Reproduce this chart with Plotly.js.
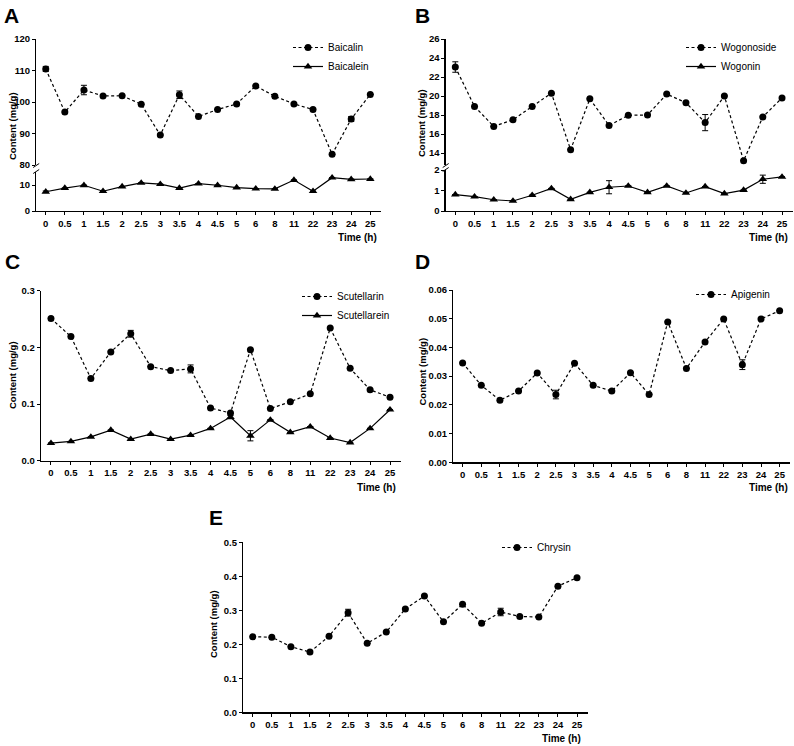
<!DOCTYPE html>
<html>
<head>
<meta charset="utf-8">
<script src="https://cdn.plot.ly/plotly-3.0.1.min.js"></script>
<style>
html,body{margin:0;padding:0;background:#fff;}
#chart{width:794px;height:746px;}
</style>
</head>
<body>
<div id="chart"></div>
<script>
// ---------- data ----------
const timeLabels = ['0','0.5','1','1.5','2','2.5','3','3.5','4','4.5','5','6','8','11','22','23','24','25'];

const baicalin    = [110.5, 96.8, 103.8, 101.9, 102.0, 99.3, 89.5, 102.3, 95.4, 97.6, 99.4, 105.1, 101.8, 99.4, 97.6, 83.4, 94.6, 102.4];
const baicalinSD  = [0.8, 0, 1.5, 0, 0, 0, 0, 1.2, 0, 0, 0, 0, 0, 0, 0, 0, 0.8, 0];
const baicalein   = [7.4, 8.8, 9.9, 7.6, 9.4, 10.8, 10.3, 8.8, 10.5, 9.9, 9.0, 8.6, 8.5, 11.9, 7.6, 12.8, 12.2, 12.3];
const baicaleinSD = [0.3, 0, 0, 0, 0, 0, 0, 0, 0, 0, 0, 0, 0, 0, 0, 0, 0, 0];

const wogonoside   = [23.05, 18.9, 16.8, 17.5, 18.9, 20.3, 14.35, 19.7, 16.9, 17.97, 18.0, 20.2, 19.3, 17.2, 20.0, 13.2, 17.8, 19.8];
const wogonosideSD = [0.55, 0, 0, 0, 0, 0, 0, 0, 0, 0, 0, 0, 0, 0.85, 0, 0, 0, 0];
const wogonin      = [0.80, 0.70, 0.55, 0.49, 0.77, 1.10, 0.57, 0.91, 1.16, 1.22, 0.91, 1.22, 0.88, 1.19, 0.85, 1.02, 1.55, 1.66];
const wogoninSD    = [0, 0, 0, 0, 0, 0, 0, 0, 0.32, 0, 0, 0, 0, 0, 0, 0, 0.2, 0];

const scutellarin    = [0.251, 0.219, 0.145, 0.192, 0.224, 0.166, 0.159, 0.162, 0.093, 0.084, 0.196, 0.092, 0.104, 0.118, 0.234, 0.163, 0.125, 0.112];
const scutellarinSD  = [0, 0, 0, 0, 0.006, 0, 0, 0.007, 0, 0, 0, 0, 0, 0, 0, 0, 0, 0];
const scutellarein   = [0.031, 0.034, 0.042, 0.054, 0.038, 0.047, 0.038, 0.045, 0.057, 0.077, 0.044, 0.072, 0.050, 0.060, 0.040, 0.032, 0.057, 0.090];
const scutellareinSD = [0, 0, 0, 0, 0, 0, 0, 0, 0, 0.003, 0.009, 0, 0, 0, 0, 0, 0, 0];

const apigenin   = [0.0346, 0.0268, 0.0216, 0.0248, 0.0311, 0.0236, 0.0345, 0.0268, 0.0248, 0.0312, 0.0236, 0.0489, 0.0327, 0.0419, 0.0499, 0.0340, 0.0499, 0.0528];
const apigeninSD = [0, 0, 0, 0, 0, 0.0015, 0, 0, 0, 0, 0, 0, 0, 0, 0, 0.0017, 0, 0];

const chrysin   = [0.222, 0.221, 0.193, 0.177, 0.224, 0.293, 0.203, 0.236, 0.304, 0.342, 0.266, 0.318, 0.262, 0.295, 0.282, 0.280, 0.371, 0.396];
const chrysinSD = [0, 0, 0, 0, 0, 0.010, 0, 0, 0, 0, 0, 0, 0, 0.011, 0, 0, 0, 0];

const seriesNames = {A:['Baicalin','Baicalein'], B:['Wogonoside','Wogonin'], C:['Scutellarin','Scutellarein'], D:['Apigenin'], E:['Chrysin']};

// ---------- layout helpers ----------
const W = 794, H = 746;
const fx = p => p / W;
const fy = p => 1 - p / H;
const FONT = 'Liberation Sans, Arial, Helvetica, sans-serif';

function glycoside(name, y, sd, xa, ya, lg) {
  return {
    name: name, x: timeLabels, y: y, xaxis: xa, yaxis: ya, legend: lg,
    type: 'scatter', mode: 'lines+markers',
    line: {color: '#000', width: 1.2, dash: '3px,2.5px'},
    marker: {symbol: 'circle', size: 7, color: '#000'},
    error_y: {type: 'data', array: sd, visible: true, color: '#000', thickness: 1, width: 3},
    cliponaxis: false
  };
}
function aglycone(name, y, sd, xa, ya, lg) {
  return {
    name: name, x: timeLabels, y: y, xaxis: xa, yaxis: ya, legend: lg,
    type: 'scatter', mode: 'lines+markers',
    line: {color: '#000', width: 1.2},
    marker: {symbol: 'triangle-up', size: 7.5, color: '#000'},
    error_y: {type: 'data', array: sd, visible: true, color: '#000', thickness: 1, width: 3},
    cliponaxis: false
  };
}

const data = [
  glycoside(seriesNames.A[0], baicalin, baicalinSD, 'x', 'y', 'legend'),
  aglycone(seriesNames.A[1], baicalein, baicaleinSD, 'x', 'y2', 'legend'),
  glycoside(seriesNames.B[0], wogonoside, wogonosideSD, 'x2', 'y3', 'legend2'),
  aglycone(seriesNames.B[1], wogonin, wogoninSD, 'x2', 'y4', 'legend2'),
  glycoside(seriesNames.C[0], scutellarin, scutellarinSD, 'x3', 'y5', 'legend3'),
  aglycone(seriesNames.C[1], scutellarein, scutellareinSD, 'x3', 'y5', 'legend3'),
  glycoside(seriesNames.D[0], apigenin, apigeninSD, 'x4', 'y6', 'legend4'),
  glycoside(seriesNames.E[0], chrysin, chrysinSD, 'x5', 'y7', 'legend5')
];

const tickFont = {family: FONT, size: 9.5, color: '#000', weight: 'bold'};
function xAxis(l, r, anchor) {
  return {
    type: 'category', domain: [fx(l), fx(r)], anchor: anchor, range: [-0.5, 17.55],
    tickmode: 'array', tickvals: timeLabels, ticktext: timeLabels,
    showline: true, linecolor: '#000', linewidth: 1.3,
    ticks: 'outside', ticklen: 3, tickwidth: 1, tickcolor: '#000',
    showgrid: false, zeroline: false, tickfont: tickFont, fixedrange: true
  };
}
function yAxis(top, bottom, anchor, range, extra) {
  return Object.assign({
    domain: [fy(bottom), fy(top)], anchor: anchor, range: range,
    showline: true, linecolor: '#000', linewidth: 1.3,
    ticks: 'outside', ticklen: 3, tickwidth: 1, tickcolor: '#000',
    showgrid: false, zeroline: false, tickfont: tickFont, fixedrange: true
  }, extra || {});
}

function legendAt(px, py) {
  return {x: fx(px), y: fy(py), xanchor: 'left', yanchor: 'top',
          font: {family: FONT, size: 10, color: '#000'}, bgcolor: 'rgba(0,0,0,0)',
          itemwidth: 30, tracegroupgap: 0};
}

function ann(text, px, py, opts) {
  return Object.assign({text: text, x: fx(px), y: fy(py), xref: 'paper', yref: 'paper',
    xanchor: 'center', yanchor: 'middle', showarrow: false,
    font: {family: FONT, size: 9, color: '#000', weight: 'bold'}}, opts || {});
}
const letterFont = {family: FONT, size: 21, color: '#000', weight: 'bold'};
const titleFont = {family: FONT, size: 9.5, color: '#000', weight: 'bold'};
const timeFont = {family: FONT, size: 10, color: '#000', weight: 'bold'};

function breakMarks(x, yUp, yLow) {
  const s = {type: 'line', xref: 'paper', yref: 'paper', line: {color: '#000', width: 1}};
  return [
    Object.assign({}, s, {x0: fx(x - 3), y0: fy(yUp + 2.5), x1: fx(x + 3), y1: fy(yUp - 1.5)}),
    Object.assign({}, s, {x0: fx(x - 3), y0: fy(yLow + 1.5), x1: fx(x + 3), y1: fy(yLow - 2.5)})
  ];
}

const layout = {
  width: W, height: H, margin: {l: 0, r: 0, t: 0, b: 0},
  paper_bgcolor: '#fff', plot_bgcolor: 'rgba(0,0,0,0)', showlegend: true,
  font: {family: FONT, color: '#000'},
  // Panel A
  xaxis: xAxis(36.2, 380.8, 'y2'),
  yaxis: yAxis(39, 165, 'x', [80, 120], {tickvals: [80, 90, 100, 110, 120]}),
  yaxis2: yAxis(172, 211, 'x', [0, 15], {tickvals: [0, 10]}),
  // Panel B
  xaxis2: xAxis(445.7, 792.6, 'y4'),
  yaxis3: yAxis(39, 165, 'x2', [12.74, 26], {tickvals: [14, 16, 18, 20, 22, 24, 26]}),
  yaxis4: yAxis(170, 211, 'x2', [0, 2], {tickvals: [0, 1, 2]}),
  // Panel C
  xaxis3: xAxis(41, 401, 'y5'),
  yaxis5: yAxis(290.7, 460.7, 'x3', [0, 0.3], {tickvals: [0, 0.1, 0.2, 0.3], tickformat: '.1f'}),
  // Panel D
  xaxis4: xAxis(453.3, 789.9, 'y6'),
  yaxis6: yAxis(290, 462.3, 'x4', [0, 0.06], {tickvals: [0, 0.01, 0.02, 0.03, 0.04, 0.05, 0.06], tickformat: '.2f'}),
  // Panel E
  xaxis5: xAxis(243.2, 587.5, 'y7'),
  yaxis7: yAxis(542.3, 712.3, 'x5', [0, 0.5], {tickvals: [0, 0.1, 0.2, 0.3, 0.4, 0.5], tickformat: '.1f'}),

  legend: legendAt(288, 33),
  legend2: legendAt(681, 33),
  legend3: legendAt(297, 282),
  legend4: legendAt(691, 280),
  legend5: legendAt(497, 533),

  shapes: [].concat(breakMarks(36.2, 165, 172), breakMarks(445.7, 165, 170)),

  annotations: [
    ann('A', 2, 15, {xanchor: 'left', font: letterFont}),
    ann('B', 413, 15, {xanchor: 'left', font: letterFont}),
    ann('C', 3, 261, {xanchor: 'left', font: letterFont}),
    ann('D', 413, 261, {xanchor: 'left', font: letterFont}),
    ann('E', 207, 517, {xanchor: 'left', font: letterFont}),

    ann('Content (mg/g)', 12, 126, {textangle: -90, font: titleFont}),
    ann('Content (mg/g)', 421, 123, {textangle: -90, font: titleFont}),
    ann('Content (mg/g)', 12, 375, {textangle: -90, font: titleFont}),
    ann('Content (mg/g)', 421.5, 372, {textangle: -90, font: titleFont}),
    ann('Content (mg/g)', 213, 624, {textangle: -90, font: titleFont}),

    ann('Time (h)', 379, 237, {xanchor: 'right', font: timeFont}),
    ann('Time (h)', 790, 237, {xanchor: 'right', font: timeFont}),
    ann('Time (h)', 398, 487, {xanchor: 'right', font: timeFont}),
    ann('Time (h)', 790, 487, {xanchor: 'right', font: timeFont}),
    ann('Time (h)', 583, 738, {xanchor: 'right', font: timeFont})
  ]
};

Plotly.newPlot('chart', data, layout, {displayModeBar: false, staticPlot: true});
</script>
</body>
</html>
